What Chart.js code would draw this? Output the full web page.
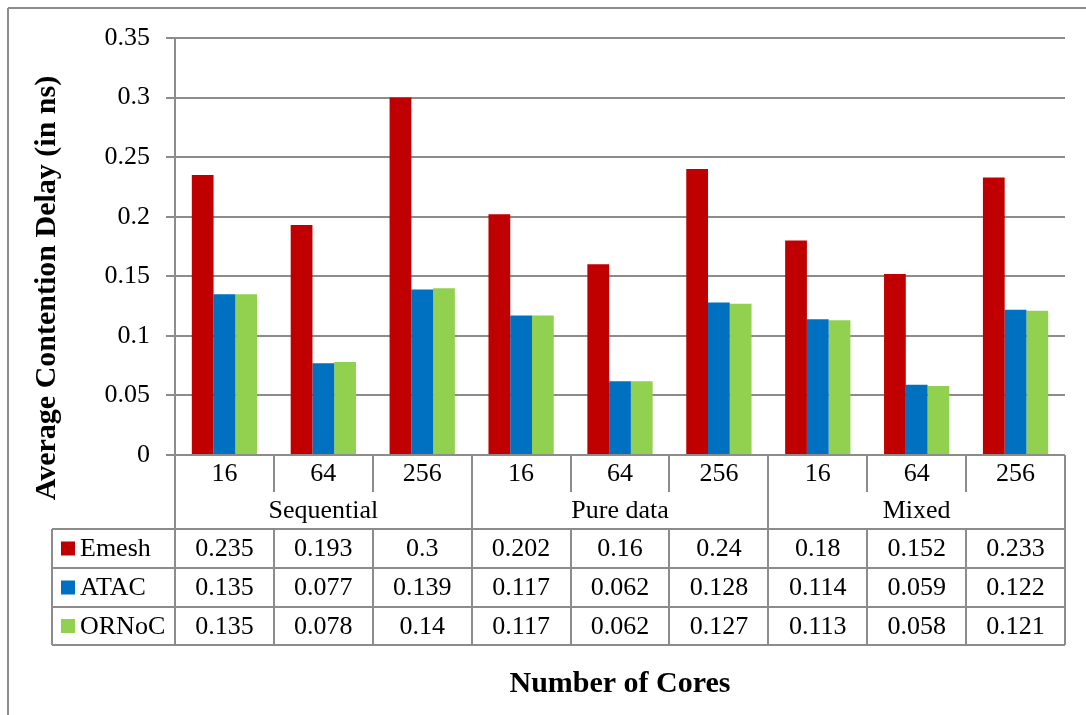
<!DOCTYPE html>
<html>
<head>
<meta charset="utf-8">
<script src="https://cdn.jsdelivr.net/npm/chart.js@4/dist/chart.umd.min.js"></script>
<style>
  html, body { margin: 0; padding: 0; background: #fff; }
  #wrap { width: 1086px; height: 715px; position: relative; }
</style>
</head>
<body>
<div id="wrap"><canvas id="delayChart"></canvas></div>
<script>
const groups = ['Sequential', 'Pure data', 'Mixed'];
const coreCounts = ['16', '64', '256'];
const seriesNames = ['Emesh', 'ATAC', 'ORNoC'];
const seriesColors = ['#C00000', '#0070C0', '#92D050'];

const emesh = [0.235, 0.193, 0.3, 0.202, 0.16, 0.24, 0.18, 0.152, 0.233];
const atac = [0.135, 0.077, 0.139, 0.117, 0.062, 0.128, 0.114, 0.059, 0.122];
const ornoc = [0.135, 0.078, 0.14, 0.117, 0.062, 0.127, 0.113, 0.058, 0.121];

const yTicks = ['0', '0.05', '0.1', '0.15', '0.2', '0.25', '0.3', '0.35'];

const categories = [];
groups.forEach((g) => coreCounts.forEach((c) => categories.push(g + ' ' + c)));

const SERIF = '"Liberation Serif", "Times New Roman", serif';
const LINE = '#8c8c8c';

// data table under the plot, lined up with the category scale
const dataTable = {
  id: 'dataTable',
  afterDraw(chart) {
    const { ctx, chartArea } = chart;
    const x = chart.scales.x;
    const left = chartArea.left;
    const right = chartArea.right;
    const n = categories.length;
    const cw = (right - left) / n;
    const rows = [chartArea.bottom, chartArea.bottom + 37, 529, 568, 607, 645];
    const legendLeft = 52;
    const values = [emesh, atac, ornoc];

    ctx.save();
    ctx.strokeStyle = LINE;
    ctx.lineWidth = 2;
    const line = (x1, y1, x2, y2) => {
      ctx.beginPath();
      ctx.moveTo(x1, y1);
      ctx.lineTo(x2, y2);
      ctx.stroke();
    };

    for (let i = 0; i <= n; i++) {
      const bx = Math.round(left + i * cw);
      const edge = i % coreCounts.length === 0;
      if (edge) {
        line(bx, rows[0], bx, rows[5]);
      } else {
        line(bx, rows[0], bx, rows[1]);
        line(bx, rows[2], bx, rows[5]);
      }
    }
    for (let r = 2; r <= 5; r++) line(legendLeft, rows[r], right, rows[r]);
    line(legendLeft, rows[2], legendLeft, rows[5]);

    ctx.fillStyle = '#000';
    ctx.font = '26px ' + SERIF;
    ctx.textAlign = 'center';
    ctx.textBaseline = 'middle';
    categories.forEach((_, i) => {
      const cx = x.getPixelForValue(i);
      ctx.fillText(coreCounts[i % coreCounts.length], cx, (rows[0] + rows[1]) / 2 + 1);
      values.forEach((vals, s) => {
        ctx.fillText(String(vals[i]), cx, (rows[s + 2] + rows[s + 3]) / 2 + 1);
      });
    });
    groups.forEach((g, gi) => {
      const gx = left + (gi + 0.5) * coreCounts.length * cw;
      ctx.fillText(g, gx, (rows[1] + rows[2]) / 2 + 1);
    });

    ctx.textAlign = 'left';
    seriesNames.forEach((name, s) => {
      const cy = (rows[s + 2] + rows[s + 3]) / 2;
      ctx.fillStyle = seriesColors[s];
      ctx.fillRect(61, cy - 7, 14, 14);
      ctx.fillStyle = '#000';
      ctx.fillText(name, 80, cy + 1);
    });

    // axis titles
    ctx.font = 'bold 30px ' + SERIF;
    ctx.textAlign = 'center';
    ctx.fillText('Number of Cores', (left + right) / 2, 684);
    ctx.save();
    ctx.translate(47, 288);
    ctx.rotate(-Math.PI / 2);
    ctx.fillText('Average Contention Delay (in ns)', 0, 0);
    ctx.restore();

    // frame
    ctx.lineWidth = 2;
    line(8, 8, 1086, 8);
    line(8, 8, 8, 715);
    ctx.restore();
  }
};

new Chart(document.getElementById('delayChart'), {
  type: 'bar',
  data: {
    labels: categories,
    datasets: [
      { label: seriesNames[0], data: emesh, backgroundColor: seriesColors[0] },
      { label: seriesNames[1], data: atac, backgroundColor: seriesColors[1] },
      { label: seriesNames[2], data: ornoc, backgroundColor: seriesColors[2] }
    ]
  },
  options: {
    responsive: true,
    maintainAspectRatio: false,
    animation: false,
    layout: { padding: { top: 38, right: 21, bottom: 260, left: 0 } },
    datasets: { bar: { categoryPercentage: 0.66, barPercentage: 1.0 } },
    plugins: {
      legend: { display: false },
      tooltip: { enabled: false }
    },
    scales: {
      x: { display: false },
      y: {
        min: 0,
        max: 0.35,
        afterFit: (scale) => { scale.width = 175; },
        border: { color: LINE, width: 2 },
        grid: { color: LINE, lineWidth: 2, tickLength: 9, drawTicks: true },
        ticks: {
          stepSize: 0.05,
          padding: 16,
          color: '#000',
          font: { family: SERIF, size: 26 },
          callback: (value, index) => yTicks[index]
        }
      }
    }
  },
  plugins: [dataTable]
});
</script>
</body>
</html>
